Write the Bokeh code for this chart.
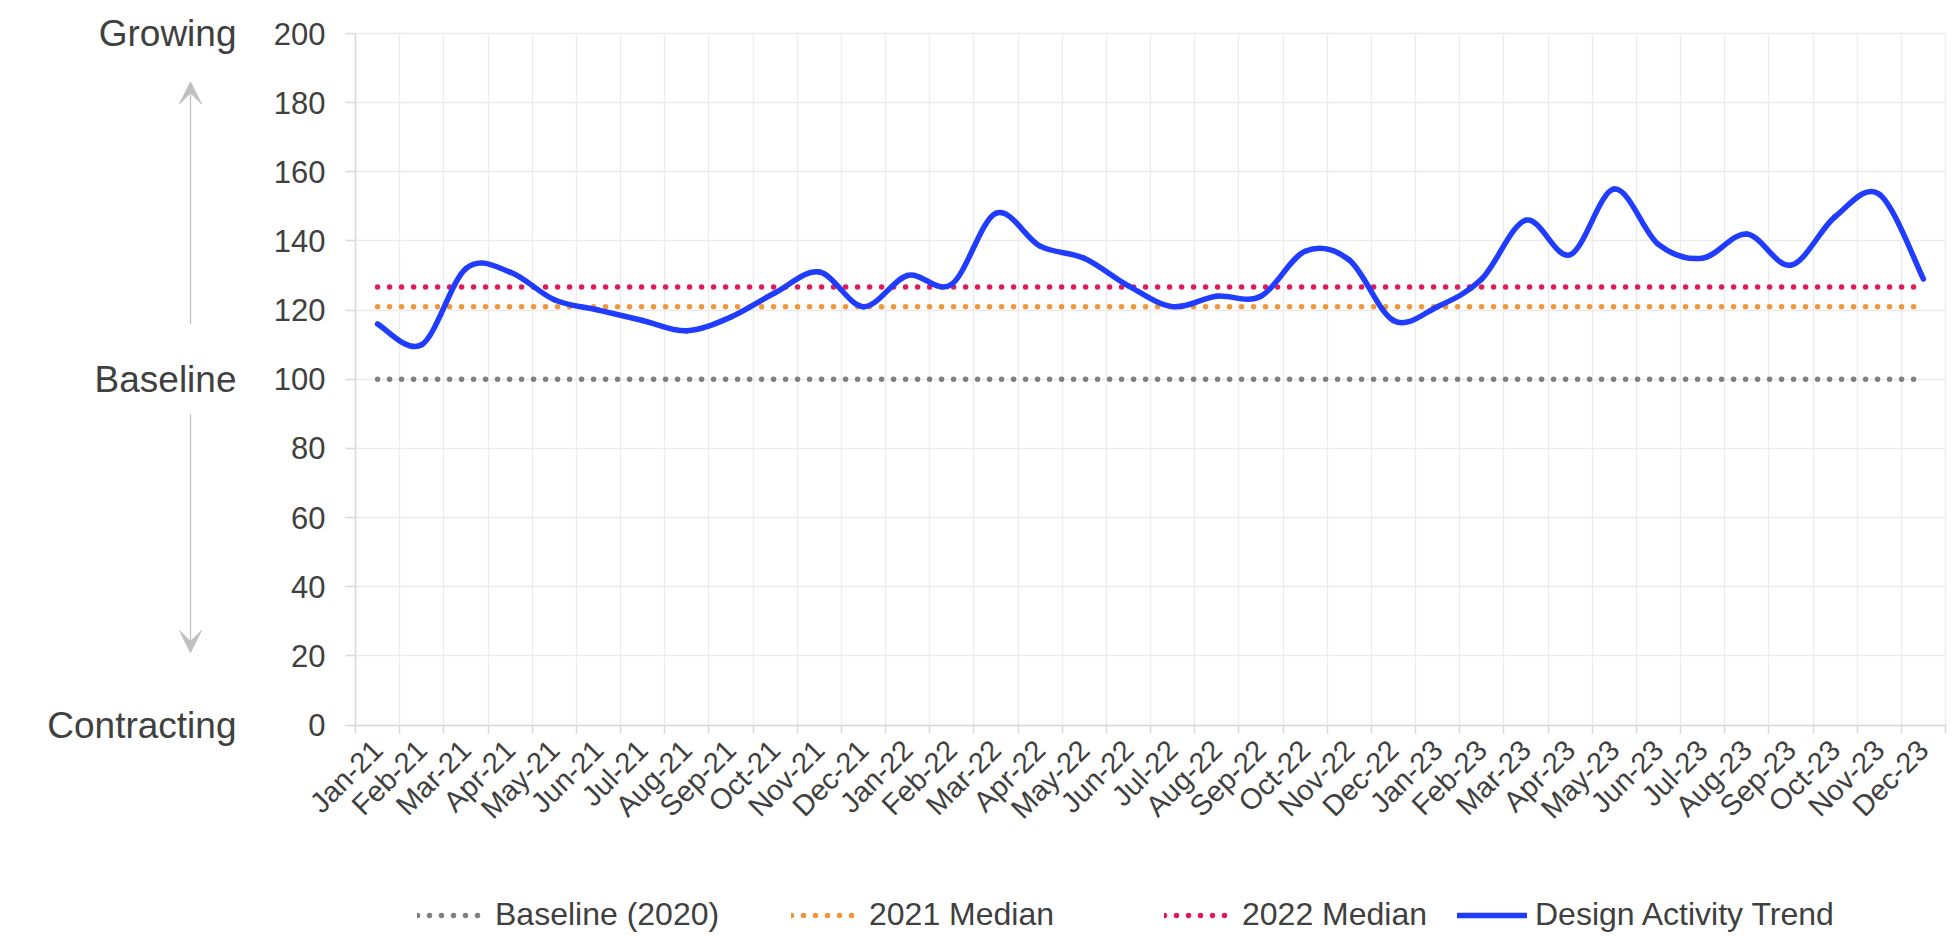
import numpy as np
from bokeh.plotting import figure
from bokeh.models import FixedTicker, Arrow, VeeHead, Legend, LegendItem, Range1d
from bokeh.core.properties import value
from bokeh.embed import file_html
from bokeh.resources import INLINE

# ---------------- data ----------------
months = ["Jan-21", "Feb-21", "Mar-21", "Apr-21", "May-21", "Jun-21",
          "Jul-21", "Aug-21", "Sep-21", "Oct-21", "Nov-21", "Dec-21",
          "Jan-22", "Feb-22", "Mar-22", "Apr-22", "May-22", "Jun-22",
          "Jul-22", "Aug-22", "Sep-22", "Oct-22", "Nov-22", "Dec-22",
          "Jan-23", "Feb-23", "Mar-23", "Apr-23", "May-23", "Jun-23",
          "Jul-23", "Aug-23", "Sep-23", "Oct-23", "Nov-23", "Dec-23"]
trend_2021 = [116, 110, 132, 131, 123, 120, 117, 114, 118, 125, 131, 121]
trend_2022 = [130, 127.5, 148, 138.5, 135, 127, 121, 124, 124, 137, 134.5, 117]
trend_2023 = [121, 129, 146, 136, 155, 139, 135, 142, 133, 147, 153.5, 129]
baseline_2020 = 100
median_2021 = 121
median_2022 = 126.7
y_ticks = [0, 20, 40, 60, 80, 100, 120, 140, 160, 180, 200]
side_label_values = [200, 100, 0]
side_label_texts = ["Growing", "Baseline", "Contracting"]
legend_labels = ["Baseline (2020)", "2021 Median", "2022 Median", "Design Activity Trend"]

# ---------------- styling / geometry ----------------
FONT = "Liberation Sans"
TEXT = "#404040"
AXIS = "#d9d9d9"
GRID = "#ececec"
C_BASE = "#7f7f7f"
C_2021 = "#f0963c"
C_2022 = "#e01a5a"
C_TREND = "#1f3cff"
C_ARROW = "#c0c0c0"

W, H = 1950, 934
PLOT_L, PLOT_R = 355, 1945      # pixel edges of the plotting area
PLOT_T, PLOT_B = 33, 724.5
Y_MIN, Y_MAX = 0, 200

trend = trend_2021 + trend_2022 + trend_2023
n = len(months)
xs = np.arange(n, dtype=float)
ys = np.array(trend, dtype=float)
boundaries = list(np.arange(n + 1) - 0.5)

cat_w = (PLOT_R - PLOT_L) / n
px_per_unit = (PLOT_B - PLOT_T) / (Y_MAX - Y_MIN)
x_start = -0.5 - PLOT_L / cat_w
x_end = x_start + W / cat_w
y_end = Y_MAX + PLOT_T / px_per_unit
y_start = y_end - H / px_per_unit


def px_to_x(px):
    return x_start + px / cat_w


p = figure(width=W, height=H, x_range=Range1d(x_start, x_end), y_range=Range1d(y_start, y_end),
           output_backend="svg", toolbar_location=None,
           min_border_left=0, min_border_right=0, min_border_top=0, min_border_bottom=0)
p.outline_line_color = None
p.background_fill_color = "white"
p.border_fill_color = "white"

# x axis (pinned at y = 0)
p.xaxis.fixed_location = Y_MIN
p.xaxis.bounds = (boundaries[0], boundaries[-1])
p.xaxis.ticker = FixedTicker(ticks=list(xs), minor_ticks=boundaries)
p.xaxis.major_label_overrides = {float(i): m for i, m in enumerate(months)}
p.xaxis.major_label_orientation = np.pi / 4
p.xaxis.major_tick_line_color = None
p.xaxis.major_tick_out = 0
p.xaxis.major_tick_in = 0
p.xaxis.minor_tick_line_color = AXIS
p.xaxis.minor_tick_line_width = 1.5
p.xaxis.minor_tick_out = 8
p.xaxis.minor_tick_in = 0
p.xaxis.major_label_standoff = 12
p.xaxis.major_label_text_font_size = "29px"

# y axis (pinned at the left edge of the plotting area)
p.yaxis.fixed_location = boundaries[0]
p.yaxis.bounds = (Y_MIN, Y_MAX)
p.yaxis.ticker = FixedTicker(ticks=y_ticks)
p.yaxis.major_tick_line_color = AXIS
p.yaxis.major_tick_line_width = 1.5
p.yaxis.major_tick_out = 10
p.yaxis.major_tick_in = 0
p.yaxis.minor_tick_line_color = None
p.yaxis.major_label_standoff = 20
p.yaxis.major_label_text_font_size = "31px"

for ax in p.axis:
    ax.axis_line_color = AXIS
    ax.axis_line_width = 1.5
    ax.major_label_text_font = FONT
    ax.major_label_text_color = TEXT

# grid limited to the plotting area
xg, yg = p.xgrid[0], p.ygrid[0]
xg.ticker = FixedTicker(ticks=boundaries)
if "cross_bounds" in xg.properties():
    xg.cross_bounds = (Y_MIN, Y_MAX)
    yg.cross_bounds = (boundaries[0], boundaries[-1])
    for g in (xg, yg):
        g.grid_line_color = GRID
        g.grid_line_width = 1.3
else:
    xg.visible = False
    yg.visible = False
    p.segment(x0=boundaries, x1=boundaries, y0=[Y_MIN] * len(boundaries), y1=[Y_MAX] * len(boundaries),
              line_color=GRID, line_width=1.3, level="underlay")
    p.segment(x0=[boundaries[0]] * len(y_ticks), x1=[boundaries[-1]] * len(y_ticks), y0=y_ticks, y1=y_ticks,
              line_color=GRID, line_width=1.3, level="underlay")

# reference lines (dotted)
dot = dict(line_width=5.5, line_dash="0 12", line_cap="round")
r_base = p.line([xs[0], xs[-1]], [baseline_2020] * 2, line_color=C_BASE, **dot)
r_2021 = p.line([xs[0], xs[-1]], [median_2021] * 2, line_color=C_2021, **dot)
r_2022 = p.line([xs[0], xs[-1]], [median_2022] * 2, line_color=C_2022, **dot)

# smoothed trend line (Catmull-Rom style bezier segments through the data points)
i0 = np.arange(n - 1)
prev = np.clip(i0 - 1, 0, n - 1)
nxt = np.clip(i0 + 2, 0, n - 1)
cx0 = xs[i0] + (xs[i0 + 1] - xs[prev]) / 6
cy0 = ys[i0] + (ys[i0 + 1] - ys[prev]) / 6
cx1 = xs[i0 + 1] - (xs[nxt] - xs[i0]) / 6
cy1 = ys[i0 + 1] - (ys[nxt] - ys[i0]) / 6
r_trend = p.bezier(x0=xs[i0], y0=ys[i0], x1=xs[i0 + 1], y1=ys[i0 + 1],
                   cx0=cx0, cy0=cy0, cx1=cx1, cy1=cy1,
                   line_color=C_TREND, line_width=5.5, line_cap="round")

# side labels
p.text(x=[px_to_x(236)] * len(side_label_values), y=side_label_values, text=side_label_texts,
       text_align="right", text_baseline="middle", text_font=value(FONT),
       text_font_size="37px", text_color=TEXT)

# side arrows
arr_x = px_to_x(190)
for ys0, ys1 in [(116, 186), (90, 21)]:
    p.add_layout(Arrow(x_start=arr_x, y_start=ys0, x_end=arr_x, y_end=ys1,
                       line_color=C_ARROW, line_width=1.3,
                       end=VeeHead(size=22, fill_color=C_ARROW, line_color=C_ARROW)))

# legends (one per item, placed like the original)
leg_x = [417, 791, 1164, 1457]
for lab, r, lx in zip(legend_labels, [r_base, r_2021, r_2022, r_trend], leg_x):
    leg = Legend(items=[LegendItem(label=lab, renderers=[r])], location=(lx, 1),
                 orientation="horizontal", glyph_width=70, glyph_height=30, label_height=30,
                 label_standoff=8, label_text_font=FONT, label_text_font_size="32px",
                 label_text_color=TEXT, padding=0, margin=0, spacing=0,
                 border_line_color=None, background_fill_alpha=0)
    p.add_layout(leg)

open("out.html", "w").write(file_html(p, INLINE))
